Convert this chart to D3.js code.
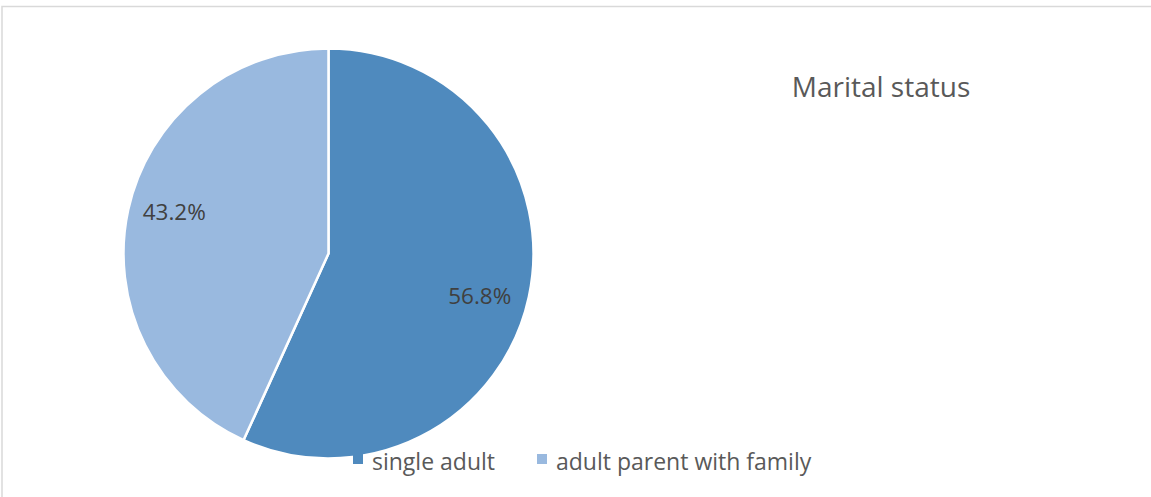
<!DOCTYPE html>
<html>
<head>
<meta charset="utf-8">
<script src="https://cdn.jsdelivr.net/npm/d3@7"></script>
<style>
  html, body { margin: 0; padding: 0; background: #fff; }
  svg { display: block; }
  text { font-family: "Open Sans", "Noto Sans", sans-serif; }
</style>
</head>
<body>
<svg id="chart" width="1151" height="497"></svg>
<script>
// Marital status breakdown
const categories = ["single adult", "adult parent with family"];
const shares = [56.8, 43.2];
const sliceColors = ["#4f8abe", "#99b9df"];
const chartTitle = "Marital status";

const width = 1151, height = 497;
const svg = d3.select("#chart");

// chart frame (only top and left edges fall inside the view)
svg.append("rect")
  .attr("x", 2).attr("y", 6.5)
  .attr("width", width + 20).attr("height", height + 20)
  .attr("fill", "#fff")
  .attr("stroke", "#d9d9d9").attr("stroke-width", 1.5);

const cx = 328.5, cy = 253.5, radius = 205;

const pie = d3.pie().sort(null).value(d => d);
const arc = d3.arc().innerRadius(0).outerRadius(radius);
const labelArc = d3.arc().innerRadius(radius * 0.75).outerRadius(radius * 0.75);

const g = svg.append("g").attr("transform", `translate(${cx},${cy})`);
const arcs = pie(shares);

g.selectAll("path.slice")
  .data(arcs)
  .join("path")
  .attr("class", "slice")
  .attr("d", arc)
  .attr("fill", (d, i) => sliceColors[i])
  .attr("stroke", "#fff")
  .attr("stroke-width", 2.5)
  .attr("stroke-linejoin", "round");

// percentage labels, nudged the way the spreadsheet places them
const labelNudge = [[1, 10], [-4, -9]];
g.selectAll("text.pct")
  .data(arcs)
  .join("text")
  .attr("class", "pct")
  .attr("transform", (d, i) => {
    const [x, y] = labelArc.centroid(d);
    return `translate(${x + labelNudge[i][0]},${y + labelNudge[i][1]})`;
  })
  .attr("text-anchor", "middle")
  .attr("dy", "0.36em")
  .attr("font-size", 22.5)
  .attr("fill", "#404040")
  .text(d => d.value.toFixed(1) + "%");

// title
svg.append("text")
  .attr("x", 881).attr("y", 97)
  .attr("text-anchor", "middle")
  .attr("font-size", 28)
  .attr("fill", "#595959")
  .text(chartTitle);

// legend
const legendX = [353, 537];
const legend = svg.selectAll("g.legend")
  .data(categories)
  .join("g")
  .attr("class", "legend")
  .attr("transform", (d, i) => `translate(${legendX[i]},454)`);

legend.append("rect")
  .attr("width", 10).attr("height", 10)
  .attr("fill", (d, i) => sliceColors[i]);

legend.append("text")
  .attr("x", 19).attr("y", 16)
  .attr("font-size", 23)
  .attr("fill", "#595959")
  .text(d => d);
</script>
</body>
</html>
